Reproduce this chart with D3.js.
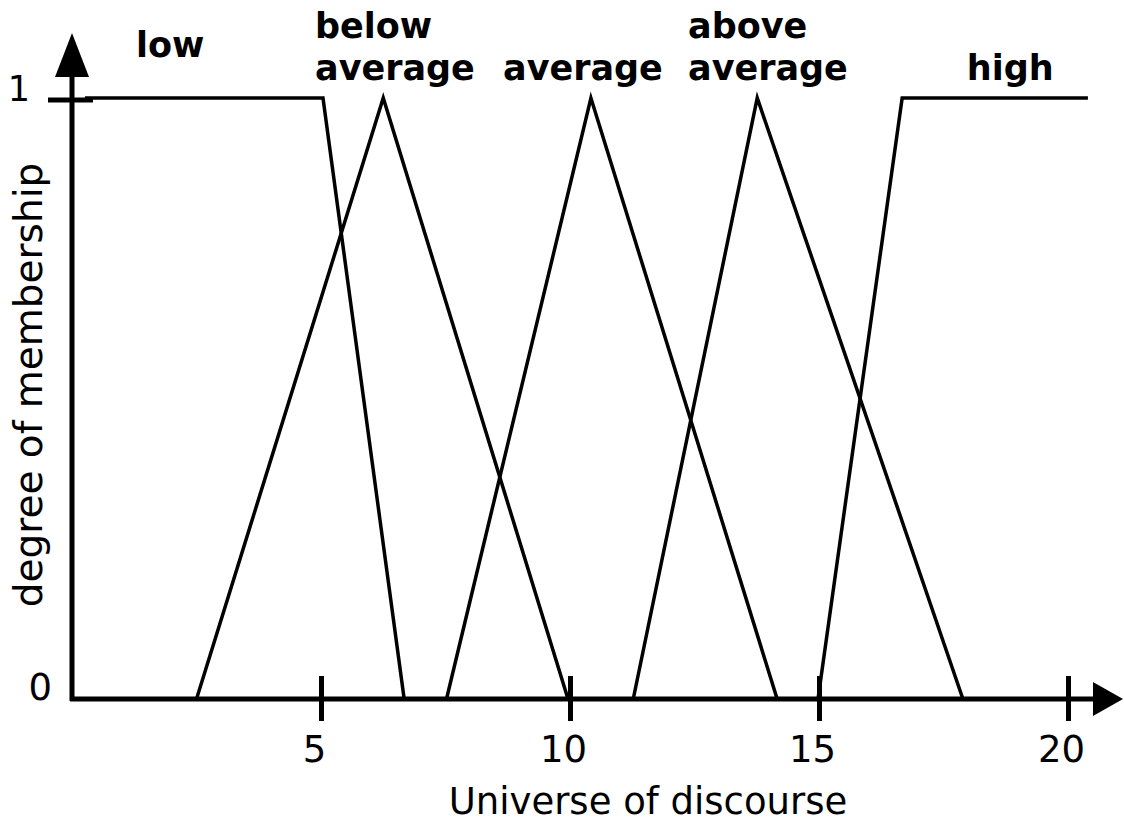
<!DOCTYPE html>
<html>
<head>
<meta charset="utf-8">
<script src="https://cdn.jsdelivr.net/npm/d3@7"></script>
<style>
  html, body { margin: 0; padding: 0; background: #fff; }
  svg { display: block; }
  text { font-family: "DejaVu Sans", Verdana, sans-serif; fill: #000; }
</style>
</head>
<body>
<div class="chart"></div>
<script>
// Fuzzy sets on the universe of discourse (x in 0..20, membership 0..1).
const setNames = ["low", "below average", "average", "above average", "high"];
const lowPts = [[0.26, 1], [5.04, 1], [6.67, 0]];
const belowPts = [[2.5, 0], [6.25, 1], [9.96, 0]];
const averagePts = [[7.52, 0], [10.42, 1], [14.16, 0]];
const abovePts = [[11.27, 0], [13.76, 1], [17.89, 0]];
const highPts = [[14.98, 0], [16.67, 1], [20.4, 1]];
const seriesPts = [lowPts, belowPts, averagePts, abovePts, highPts];

// Label anchor in data units (x) and text lines.
const labelX = [1.97, 4.88, 10.26, 12.37, 18.84];
const labelLines = [["low"], ["below", "average"], ["average"], ["above", "average"], ["high"]];
const xTicks = [5, 10, 15, 20];
const yTicks = [0, 1];

const width = 1124;
const height = 828;

const svg = d3.select(".chart")
  .append("svg")
  .attr("width", width)
  .attr("height", height);

// Scales: origin of the plot at (72, 699).
const x = d3.scaleLinear().domain([0, 20]).range([72, 1068]);
const y = d3.scaleLinear().domain([0, 1]).range([699, 98]);

// Membership functions.
const line = d3.line().x(d => x(d[0])).y(d => y(d[1]));
svg.append("g")
  .selectAll("path")
  .data(seriesPts)
  .enter().append("path")
  .attr("d", line)
  .attr("fill", "none")
  .attr("stroke", "#000")
  .attr("stroke-width", 3.5)
  .attr("stroke-linejoin", "miter");

// Horizontal axis with arrow.
svg.append("line")
  .attr("x1", x(0) - 2).attr("x2", 1096)
  .attr("y1", y(0)).attr("y2", y(0))
  .attr("stroke", "#000")
  .attr("stroke-width", 5);
svg.append("path")
  .attr("d", `M1093,${y(0) - 17}L1123,${y(0)}L1093,${y(0) + 17}Z`)
  .attr("fill", "#000");

// Vertical axis with arrow.
svg.append("line")
  .attr("x1", x(0)).attr("x2", x(0))
  .attr("y1", y(0) + 2).attr("y2", 74)
  .attr("stroke", "#000")
  .attr("stroke-width", 5);
svg.append("path")
  .attr("d", `M${x(0) - 17},77L${x(0)},33L${x(0) + 17},77Z`)
  .attr("fill", "#000");

// X ticks cross the axis, labels sit a little to the left.
const xAxis = d3.axisBottom(x).tickValues(xTicks).tickSize(45).tickPadding(0);
const gx = svg.append("g")
  .attr("transform", `translate(0,${y(0) - 23})`)
  .call(xAxis);
gx.select(".domain").remove();
gx.selectAll(".tick line")
  .attr("stroke", "#000")
  .attr("stroke-width", 5);
gx.selectAll(".tick text")
  .attr("x", -7)
  .attr("y", 86)
  .attr("dy", 0)
  .attr("font-size", "37px")
  .attr("font-family", "DejaVu Sans, Verdana, sans-serif")
  .attr("fill", "#111");

// Y tick at 1 and the two y labels.
svg.append("line")
  .attr("x1", 48).attr("x2", 93)
  .attr("y1", y(1) + 2).attr("y2", y(1) + 2)
  .attr("stroke", "#000")
  .attr("stroke-width", 5);
svg.append("g")
  .selectAll("text")
  .data(yTicks)
  .enter().append("text")
  .attr("x", d => d === 1 ? 30 : 52)
  .attr("y", d => y(d) + (d === 1 ? 3 : 1))
  .attr("text-anchor", "end")
  .attr("font-size", d => d === 1 ? "35px" : "37px")
  .attr("fill", "#111")
  .text(d => d);

// Axis titles.
svg.append("text")
  .attr("x", 648)
  .attr("y", 814)
  .attr("text-anchor", "middle")
  .attr("font-size", "37px")
  .attr("fill", "#222")
  .text("Universe of discourse");
svg.append("text")
  .attr("transform", "translate(42,385) rotate(-90)")
  .attr("text-anchor", "middle")
  .attr("font-size", "39px")
  .attr("fill", "#222")
  .text("degree of membership");

// Set labels, bold, above the curves.
const labelBase = [57, 38, 80, 38, 80];
const labelAnchor = ["middle", "start", "middle", "start", "middle"];
const labels = svg.append("g")
  .selectAll("text")
  .data(setNames)
  .enter().append("text")
  .attr("x", (d, i) => x(labelX[i]))
  .attr("y", (d, i) => labelBase[i])
  .attr("text-anchor", (d, i) => labelAnchor[i])
  .attr("font-size", "35px")
  .attr("font-weight", "bold");
labels.selectAll("tspan")
  .data((d, i) => labelLines[i].map((t, j) => ({ t, j, i })))
  .enter().append("tspan")
  .attr("x", d => x(labelX[d.i]))
  .attr("dy", d => d.j === 0 ? 0 : 42)
  .text(d => d.t);
</script>
</body>
</html>
